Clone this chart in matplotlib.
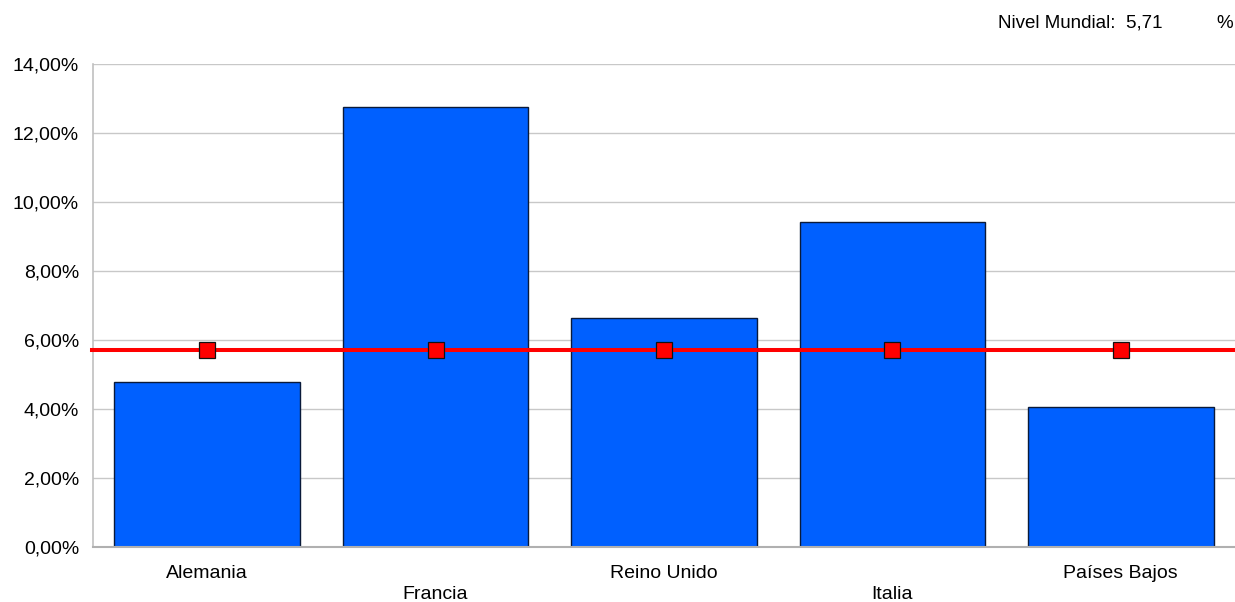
import matplotlib
matplotlib.use("Agg")
import matplotlib.pyplot as plt
import numpy as np

plt.rcParams['font.family'] = ['Liberation Sans', 'DejaVu Sans']

categories = ["Alemania", "Francia", "Reino Unido", "Italia", "Países Bajos"]
values = [4.79, 12.77, 6.65, 9.41, 4.05]
world_level = 5.71
yticks = [0, 2, 4, 6, 8, 10, 12, 14]

fig = plt.figure(figsize=(12.35, 6.02), dpi=100)
ax = fig.add_axes([93/1235, (602-546.7)/602, 1 - 93/1235, (546.7-64.3)/602])

x = np.arange(len(categories))
ax.bar(x, values, width=0.813, color='#0060FF', edgecolor='#0a1a3a', linewidth=1.0, zorder=2)

ax.axhline(world_level, color='#FF0000', linewidth=2.9, zorder=3, clip_on=False,
           xmin=-0.001)
ax.plot(x, [world_level]*len(x), linestyle='none', marker='s', markersize=11,
        markerfacecolor='#FF0000', markeredgecolor='#111111', markeredgewidth=0.9, zorder=4)

ax.set_xlim(-0.5, len(categories) - 0.5)
ax.set_ylim(0, 14)
ax.set_yticks(yticks)
ax.set_yticklabels([f"{v:.2f}".replace('.', ',') + "%" for v in yticks])
ax.yaxis.grid(True, color='#c8c8c8', linewidth=1.0, zorder=0)
ax.set_axisbelow(True)

ax.set_xticks(x)
labels = [c if i % 2 == 0 else "\n" + c for i, c in enumerate(categories)]
ax.set_xticklabels(labels)
for lab in ax.get_xticklabels():
    lab.set_linespacing(1.32)

ax.tick_params(axis='both', length=0, labelsize=14, colors='#000000')
ax.tick_params(axis='y', pad=10)
ax.tick_params(axis='x', pad=13)

for s in ['top', 'right']:
    ax.spines[s].set_visible(False)
ax.spines['left'].set_color('#c0c0c0')
ax.spines['left'].set_linewidth(1.2)
ax.spines['bottom'].set_color('#b0b0b0')
ax.spines['bottom'].set_linewidth(1.5)

fig.text(998/1235, 1 - 23/602, "Nivel Mundial:  " + f"{world_level:.2f}".replace('.', ','),
         fontsize=13.5, ha='left', va='center')
fig.text(1233/1235, 1 - 23/602, "%", fontsize=13.5, ha='right', va='center')

fig.savefig("out.png", dpi=100)
